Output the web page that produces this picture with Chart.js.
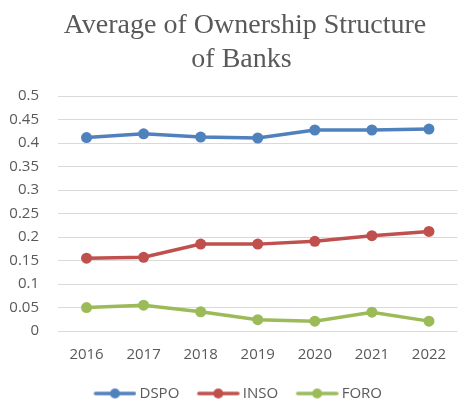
<!DOCTYPE html>
<html>
<head>
<meta charset="utf-8">
<script src="https://cdn.jsdelivr.net/npm/chart.js@4"></script>
<style>
  html, body { margin: 0; padding: 0; background: #ffffff; }
  #wrap { width: 463px; height: 400px; }
</style>
</head>
<body>
<div id="wrap"><canvas id="chart" width="463" height="400"></canvas></div>
<script>
// Data
const years = ['2016', '2017', '2018', '2019', '2020', '2021', '2022'];
const dspo = [0.412, 0.420, 0.413, 0.411, 0.428, 0.428, 0.430];
const inso = [0.155, 0.157, 0.185, 0.185, 0.191, 0.203, 0.212];
const foro = [0.050, 0.055, 0.041, 0.024, 0.021, 0.040, 0.021];

const textColor = '#595959';
const gridColor = '#d9d9d9';
const tickFont = { family: "'Open Sans', sans-serif", size: 15 };

// Legend marker: short line with a dot, drawn on the right of a wider transparent image
const makeMarker = (color) => {
    const c = document.createElement('canvas');
    c.width = 61;
    c.height = 12;
    const ctx = c.getContext('2d');
    ctx.strokeStyle = color;
    ctx.lineWidth = 3.5;
    ctx.lineCap = 'round';
    ctx.beginPath();
    ctx.moveTo(20, 6);
    ctx.lineTo(59, 6);
    ctx.stroke();
    ctx.fillStyle = color;
    ctx.beginPath();
    ctx.arc(39.5, 6, 5, 0, Math.PI * 2);
    ctx.fill();
    return c;
};

const series = [
    { label: 'DSPO', data: dspo, color: '#4f81bd' },
    { label: 'INSO', data: inso, color: '#c0504d' },
    { label: 'FORO', data: foro, color: '#9bbb59' },
];
const markers = series.map(s => makeMarker(s.color));

new Chart(document.getElementById('chart'), {
    type: 'line',
    data: {
        labels: years,
        datasets: series.map(s => ({
            label: s.label,
            data: s.data,
            borderColor: s.color,
            backgroundColor: s.color,
            borderWidth: 3.5,
            pointRadius: 5.5,
            pointBorderWidth: 0,
            pointStyle: 'circle',
            tension: 0,
        }))
    },
    options: {
        responsive: false,
        animation: false,
        layout: { padding: { left: 0, right: 1, top: 0, bottom: -11 } },
        plugins: {
            title: {
                display: true,
                text: ['    Average of Ownership Structure', '   of Banks'],
                color: textColor,
                font: { family: "'Liberation Serif', 'Times New Roman', serif", size: 28, weight: 'normal', lineHeight: 1.2 },
                padding: { top: 9, bottom: 20 }
            },
            legend: {
                position: 'bottom',
                labels: {
                    usePointStyle: true,
                    pointStyleWidth: 52,
                    color: textColor,
                    font: tickFont,
                    padding: 4,
                    generateLabels: (chart) => {
                        const items = Chart.defaults.plugins.legend.labels.generateLabels(chart);
                        items.forEach((item, i) => { item.pointStyle = markers[i]; });
                        return items;
                    }
                }
            },
            tooltip: { enabled: false }
        },
        scales: {
            x: {
                offset: true,
                grid: { display: false },
                border: { display: false },
                ticks: {
                    color: textColor,
                    font: tickFont,
                    padding: 7,
                    maxRotation: 0
                },
                // leave room between the year labels and the legend
                afterFit: (axis) => { axis.height += 11; }
            },
            y: {
                min: 0,
                max: 0.5,
                grid: { color: gridColor, lineWidth: 1, drawTicks: false },
                border: { display: false },
                ticks: {
                    stepSize: 0.05,
                    color: textColor,
                    font: tickFont,
                    padding: 19,
                    callback: (v) => String(+Number(v).toFixed(2))
                },
                afterFit: (axis) => { axis.width = 58; }
            }
        }
    }
});
</script>
</body>
</html>
